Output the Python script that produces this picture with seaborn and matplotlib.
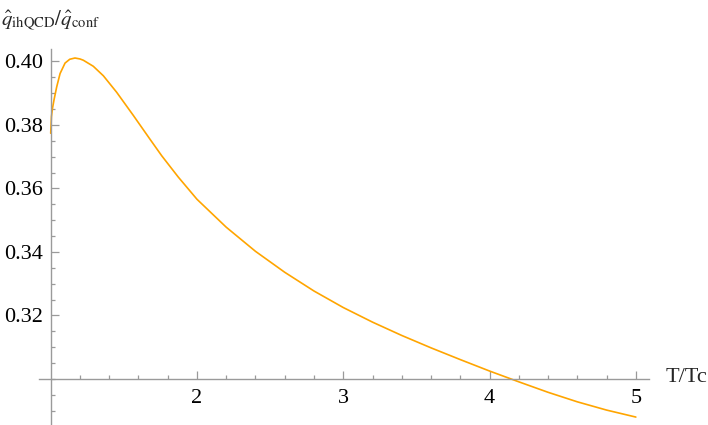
import matplotlib
matplotlib.use("Agg")
import matplotlib.pyplot as plt
import seaborn as sns
import pandas as pd
from matplotlib.ticker import FixedLocator

# Data
t_over_tc = [1.000, 1.005, 1.012, 1.023, 1.041, 1.064, 1.098, 1.130, 1.166, 1.200,
             1.223, 1.291, 1.360, 1.451, 1.565, 1.679, 1.759, 1.872, 2.000, 2.200,
             2.400, 2.600, 2.800, 3.000, 3.200, 3.400, 3.600, 3.800, 4.000, 4.200,
             4.400, 4.600, 4.800, 5.000]
q_ratio = [0.3774, 0.3826, 0.3852, 0.3880, 0.3920, 0.3962, 0.3995, 0.4007, 0.4011, 0.4008,
           0.4004, 0.3985, 0.3955, 0.3903, 0.3830, 0.3755, 0.3703, 0.3636, 0.3566, 0.3478,
           0.3402, 0.3336, 0.3277, 0.3225, 0.3179, 0.3137, 0.3098, 0.3061, 0.3025, 0.2991,
           0.2958, 0.2928, 0.2902, 0.2880]
x_ticks = [2, 3, 4, 5]
x_minor = [1.2, 1.4, 1.6, 1.8, 2.2, 2.4, 2.6, 2.8, 3.2, 3.4, 3.6, 3.8,
           4.2, 4.4, 4.6, 4.8]
y_ticks = [0.32, 0.34, 0.36, 0.38, 0.40]
y_tick_labels = ["0.32", "0.34", "0.36", "0.38", "0.40"]
y_minor = [0.29, 0.295, 0.30, 0.305, 0.31, 0.315, 0.325, 0.33, 0.335,
           0.345, 0.35, 0.355, 0.365, 0.37, 0.375, 0.385, 0.39, 0.395]

sns.set_style("white")
plt.rcParams['font.family'] = ['Liberation Serif', 'DejaVu Serif']
plt.rcParams['mathtext.fontset'] = 'stix'

df = pd.DataFrame({"T/Tc": t_over_tc, "q": q_ratio})

fig = plt.figure(figsize=(7.08, 4.25), dpi=100)
ax = fig.add_axes([39 / 708, 0.0, 610 / 708, (425 - 48.8) / 425])
sns.lineplot(data=df, x="T/Tc", y="q", ax=ax, color="#FFA500", linewidth=1.2)

ax.set_xlim(0.92, 5.09)
ax.set_ylim(0.2855, 0.4040)

axis_color = "#9a9a9a"
for s in ["top", "right"]:
    ax.spines[s].set_visible(False)
ax.spines['left'].set_position(('data', 1.0))
ax.spines['bottom'].set_position(('data', 0.30))
for s in ["left", "bottom"]:
    ax.spines[s].set_color(axis_color)
    ax.spines[s].set_linewidth(1.0)

ax.xaxis.set_major_locator(FixedLocator(x_ticks))
ax.xaxis.set_minor_locator(FixedLocator(x_minor))
ax.yaxis.set_major_locator(FixedLocator(y_ticks))
ax.set_yticklabels(y_tick_labels)
ax.yaxis.set_minor_locator(FixedLocator(y_minor))

ax.tick_params(axis='both', which='both', bottom=True, left=True, top=False, right=False)
ax.tick_params(axis='both', which='major', direction='in', length=5.5, width=0.9,
               color=axis_color, labelsize=16, labelcolor='black')
ax.tick_params(axis='both', which='minor', direction='in', length=3.2, width=0.9,
               color=axis_color)
ax.tick_params(axis='x', which='major', pad=7)
ax.tick_params(axis='y', which='major', pad=5.5)

ax.set_xlabel("")
ax.set_ylabel("")
fig.text(666 / 708, 1 - 378 / 425, "T/Tc", fontsize=16, ha='left', va='center')
fig.text(1 / 708, 1 - 20 / 425, r"$\hat{q}_{\rm ihQCD}/\hat{q}_{\rm conf}$", fontsize=15,
         ha='left', va='center')

fig.savefig("out.png", dpi=100)
